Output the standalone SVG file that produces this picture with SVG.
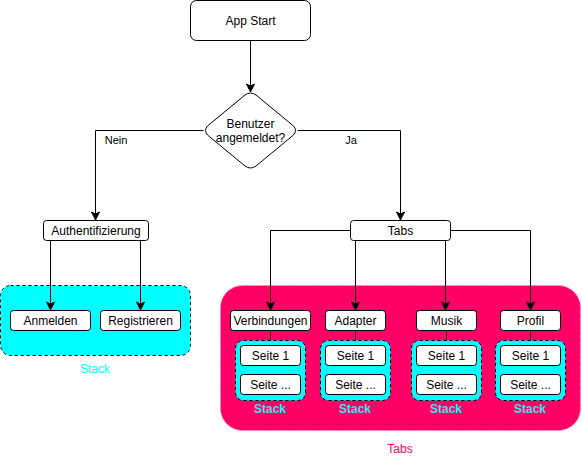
<svg xmlns="http://www.w3.org/2000/svg" width="582" height="469" viewBox="0 0 582 469">
<defs>
<marker id="ah" viewBox="0 0 10 10" refX="9" refY="5" markerWidth="10" markerHeight="10" markerUnits="userSpaceOnUse" orient="auto">
<path d="M1,1 L9,5 L1,9 L3,5 Z" fill="#000" stroke="#000" stroke-width="1"/>
</marker>
</defs>
<style>
.n{fill:#fff;stroke:#000;stroke-width:1}
.t{font-family:"Liberation Sans",Arial,sans-serif;font-size:12px;fill:#000;text-anchor:middle;dominant-baseline:central}
.l{font-family:"Liberation Sans",Arial,sans-serif;font-size:11px;fill:#000;text-anchor:middle;dominant-baseline:central}
.c{fill:none;stroke:#000;stroke-width:1}
.a{marker-end:url(#ah)}
.stk{fill:#00FFFF;stroke:#000;stroke-dasharray:3 3;stroke-width:1}
.sl{font-family:"Liberation Sans",Arial,sans-serif;font-size:12px;fill:#00FFFF;text-anchor:middle;dominant-baseline:central}
.slb{font-family:"Liberation Sans",Arial,sans-serif;font-size:12px;font-weight:bold;fill:#2EE6F0;text-anchor:middle;dominant-baseline:central}
</style>
<g id="tabs-container">
<rect x="220.5" y="285.5" width="360" height="145" rx="22" ry="22" fill="#FF0066" stroke="#FF99BB" stroke-dasharray="3 3"/>
<text class="sl" x="400" y="449" style="fill:#FF0066">Tabs</text>
</g>
<g id="auth-stack">
<rect class="stk" x="0.5" y="285.5" width="190" height="70" rx="10" ry="10"/>
<text class="sl" x="95" y="369">Stack</text>
</g>
<g id="stack1"><rect class="stk" x="235.5" y="340.5" width="70" height="60" rx="8" ry="8"/><text class="slb" x="270" y="409">Stack</text></g>
<g id="stack2"><rect class="stk" x="320.5" y="340.5" width="70" height="60" rx="8" ry="8"/><text class="slb" x="355" y="409">Stack</text></g>
<g id="stack3"><rect class="stk" x="411.5" y="340.5" width="70" height="60" rx="8" ry="8"/><text class="slb" x="446" y="409">Stack</text></g>
<g id="stack4"><rect class="stk" x="495.5" y="340.5" width="70" height="60" rx="8" ry="8"/><text class="slb" x="530" y="409">Stack</text></g>
<g id="connectors">
<path class="c a" d="M250.5,40.5 V92"/>
<path class="c a" d="M203.5,130.5 H95.5 V220"/>
<path class="c a" d="M297.5,130.5 H400.5 V220"/>
<path class="c a" d="M50.5,240.5 V310"/>
<path class="c a" d="M140.5,240.5 V310"/>
<path class="c a" d="M350.5,230.5 H270.5 V310"/>
<path class="c a" d="M355.5,240.5 V310"/>
<path class="c a" d="M445.5,240.5 V310"/>
<path class="c a" d="M450.5,230.5 H530.5 V310"/>
<path class="c" d="M270.5,330.5 V340.5"/>
<path class="c" d="M355.5,330.5 V340.5"/>
<path class="c" d="M446.5,330.5 V340.5"/>
<path class="c" d="M530.5,330.5 V340.5"/>
<text class="l" x="116" y="140">Nein</text>
<text class="l" x="351" y="140">Ja</text>
</g>
<g id="app-start"><rect class="n" x="190.5" y="0.5" width="120" height="40" rx="6" ry="6"/><text class="t" x="250.5" y="20.5">App Start</text></g>
<g id="decision"><path class="n" d="M245,95 Q250.5,91 256,95 L293.5,126 Q297.5,130.5 293.5,135 L256,166 Q250.5,170 245,166 L207.5,135 Q203.5,130.5 207.5,126 Z"/><text class="t" x="250.5" y="124">Benutzer</text><text class="t" x="250.5" y="138">angemeldet?</text></g>
<g id="auth"><rect class="n" x="43.5" y="220.5" width="105" height="20" rx="3" ry="3"/><text class="t" x="96" y="230.5">Authentifizierung</text></g>
<g id="anmelden"><rect class="n" x="10.5" y="310.5" width="80" height="20" rx="3" ry="3"/><text class="t" x="50.5" y="320.5">Anmelden</text></g>
<g id="registrieren"><rect class="n" x="100.5" y="310.5" width="80" height="20" rx="3" ry="3"/><text class="t" x="140.5" y="320.5">Registrieren</text></g>
<g id="tabs"><rect class="n" x="350.5" y="220.5" width="100" height="20" rx="3" ry="3"/><text class="t" x="400.5" y="230.5">Tabs</text></g>
<g id="verbindungen"><rect class="n" x="230.5" y="310.5" width="80" height="20" rx="3" ry="3"/><text class="t" x="270.5" y="320.5">Verbindungen</text></g>
<g id="adapter"><rect class="n" x="325.5" y="310.5" width="60" height="20" rx="3" ry="3"/><text class="t" x="355.5" y="320.5">Adapter</text></g>
<g id="musik"><rect class="n" x="416.5" y="310.5" width="60" height="20" rx="3" ry="3"/><text class="t" x="446.5" y="320.5">Musik</text></g>
<g id="profil"><rect class="n" x="500.5" y="310.5" width="60" height="20" rx="3" ry="3"/><text class="t" x="530.5" y="320.5">Profil</text></g>
<g id="s1p1"><rect class="n" x="240.5" y="345.5" width="60" height="20" rx="3" ry="3"/><text class="t" x="270.5" y="355.5">Seite 1</text></g>
<g id="s1p2"><rect class="n" x="240.5" y="374.5" width="60" height="20" rx="3" ry="3"/><text class="t" x="270.5" y="384.5">Seite ...</text></g>
<g id="s2p1"><rect class="n" x="325.5" y="345.5" width="60" height="20" rx="3" ry="3"/><text class="t" x="355.5" y="355.5">Seite 1</text></g>
<g id="s2p2"><rect class="n" x="325.5" y="374.5" width="60" height="20" rx="3" ry="3"/><text class="t" x="355.5" y="384.5">Seite ...</text></g>
<g id="s3p1"><rect class="n" x="416.5" y="345.5" width="60" height="20" rx="3" ry="3"/><text class="t" x="446.5" y="355.5">Seite 1</text></g>
<g id="s3p2"><rect class="n" x="416.5" y="374.5" width="60" height="20" rx="3" ry="3"/><text class="t" x="446.5" y="384.5">Seite ...</text></g>
<g id="s4p1"><rect class="n" x="500.5" y="345.5" width="60" height="20" rx="3" ry="3"/><text class="t" x="530.5" y="355.5">Seite 1</text></g>
<g id="s4p2"><rect class="n" x="500.5" y="374.5" width="60" height="20" rx="3" ry="3"/><text class="t" x="530.5" y="384.5">Seite ...</text></g>
</svg>
